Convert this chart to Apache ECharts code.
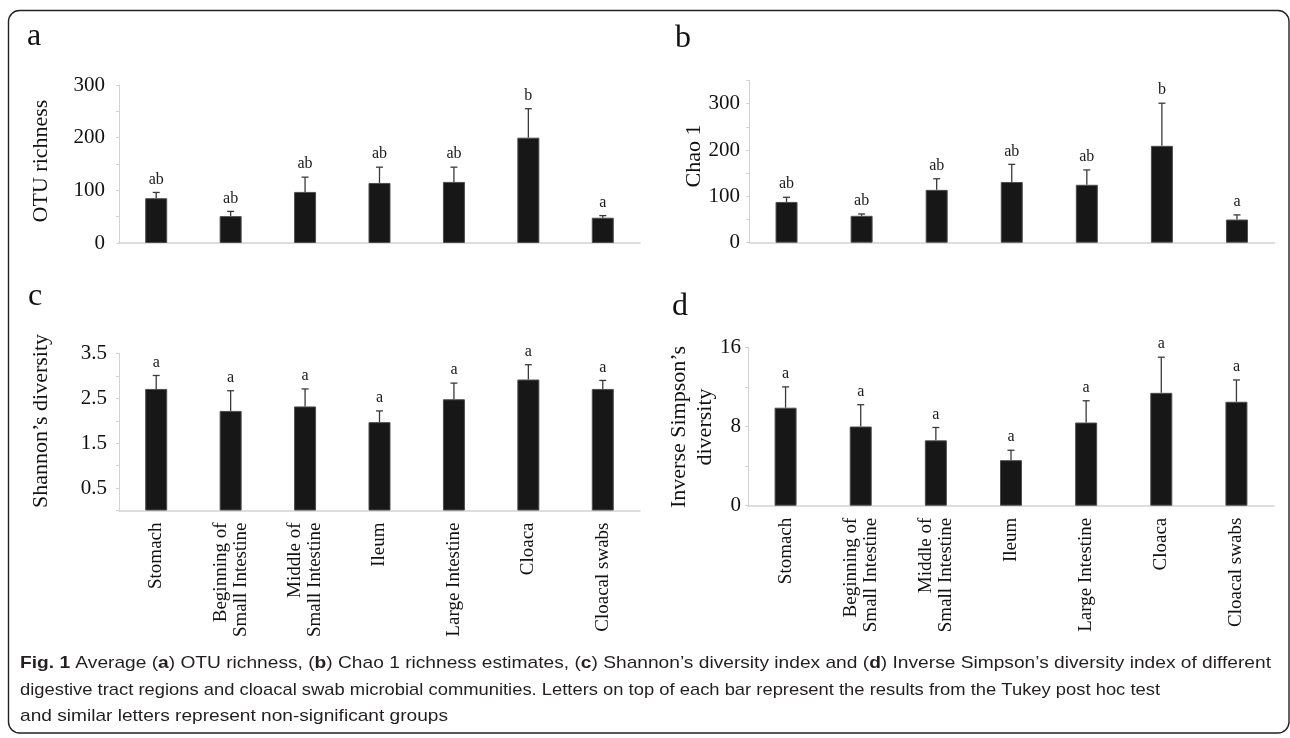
<!DOCTYPE html>
<html>
<head>
<meta charset="utf-8">
<script src="https://cdn.jsdelivr.net/npm/echarts@6/dist/echarts.min.js"></script>
<style>
  html, body { margin: 0; padding: 0; background: #ffffff; }
  #chart { width: 1290px; height: 738px; }
</style>
</head>
<body>
<div id="chart"></div>
<script>
// Sample groups along the digestive tract
const categories = [
  'Stomach',
  'Beginning of\nSmall Intestine',
  'Middle of\nSmall Intestine',
  'Ileum',
  'Large Intestine',
  'Cloaca',
  'Cloacal swabs'
];

// (a) OTU richness: mean and standard error
const otuMean = [85, 51, 97, 114, 116, 200, 48];
const otuErr = [11, 9, 28, 30, 28, 55, 4];
const otuLetters = ['ab', 'ab', 'ab', 'ab', 'ab', 'b', 'a'];

// (b) Chao 1 richness estimate
const chaoMean = [88, 58, 114, 131, 125, 209, 50];
const chaoErr = [10, 4, 24, 38, 32, 92, 10];
const chaoLetters = ['ab', 'ab', 'ab', 'ab', 'ab', 'b', 'a'];

// (c) Shannon's diversity index
const shannonMean = [2.71, 2.22, 2.32, 1.97, 2.48, 2.92, 2.71];
const shannonErr = [0.30, 0.45, 0.39, 0.25, 0.36, 0.33, 0.19];
const shannonLetters = ['a', 'a', 'a', 'a', 'a', 'a', 'a'];

// (d) Inverse Simpson's diversity index
const simpsonMean = [9.9, 8.0, 6.6, 4.6, 8.4, 11.4, 10.5];
const simpsonErr = [2.1, 2.2, 1.3, 1.0, 2.2, 3.6, 2.2];
const simpsonLetters = ['a', 'a', 'a', 'a', 'a', 'a', 'a'];

// Axis ranges and which tick values carry a label
const otuTicks = { max: 300, interval: 50, labelled: [0, 100, 200, 300] };
const chaoTicks = { max: 350, interval: 50, labelled: [0, 100, 200, 300] };
const shannonTicks = { max: 3.5, interval: 0.5, labelled: [0.5, 1.5, 2.5, 3.5] };
const simpsonTicks = { max: 16, interval: 4, labelled: [0, 8, 16] };

const SERIF = '"Liberation Serif", "Times New Roman", serif';
const CAPTION_FONT = '"Liberation Sans", Arial, sans-serif';

const panels = [
  { mean: otuMean, err: otuErr, letters: otuLetters, ticks: otuTicks, fmt: v => String(v),
    grid: { left: 119, top: 85, width: 521, height: 158 }, labelMargin: 14, showCats: false },
  { mean: chaoMean, err: chaoErr, letters: chaoLetters, ticks: chaoTicks, fmt: v => String(v),
    grid: { left: 749, top: 80.5, width: 525.5, height: 162.2 }, labelMargin: 9, showCats: false },
  { mean: shannonMean, err: shannonErr, letters: shannonLetters, ticks: shannonTicks, fmt: v => v.toFixed(1),
    grid: { left: 119, top: 353.5, width: 521, height: 157 }, labelMargin: 12, showCats: true },
  { mean: simpsonMean, err: simpsonErr, letters: simpsonLetters, ticks: simpsonTicks, fmt: v => String(v),
    grid: { left: 748, top: 347.3, width: 526, height: 158.4 }, labelMargin: 7, showCats: true }
];

const AXIS_GREY = '#d2d2d2';

const grid = panels.map(p => Object.assign({ outerBoundsMode: 'none', containLabel: false }, p.grid));

const xAxis = panels.map((p, i) => ({
  type: 'category',
  gridIndex: i,
  data: categories,
  axisLine: { show: true, lineStyle: { color: AXIS_GREY, width: 1.5 } },
  axisTick: { show: false },
  splitLine: { show: false },
  axisLabel: {
    show: p.showCats,
    interval: 0,
    rotate: 90,
    margin: 12,
    color: '#111',
    fontFamily: SERIF,
    fontSize: 19,
    lineHeight: 20
  }
}));

const yAxis = panels.map((p, i) => ({
  type: 'value',
  gridIndex: i,
  min: 0,
  max: p.ticks.max,
  interval: p.ticks.interval,
  splitLine: { show: false },
  axisLine: { show: true, lineStyle: { color: AXIS_GREY, width: 1 } },
  axisTick: { show: true, inside: false, length: 3, lineStyle: { color: AXIS_GREY, width: 1 } },
  axisLabel: {
    margin: p.labelMargin,
    color: '#111',
    fontFamily: SERIF,
    fontSize: 21,
    formatter: v => p.ticks.labelled.some(t => Math.abs(t - v) < 1e-9) ? p.fmt(v) : ''
  }
}));

const series = [];
panels.forEach((p, i) => {
  series.push({
    type: 'bar',
    xAxisIndex: i,
    yAxisIndex: i,
    barWidth: 22,
    data: p.mean,
    itemStyle: { color: '#171717', borderColor: '#4d4d4d', borderWidth: 1 },
    silent: true,
    z: 2
  });
  // upper error bar with cap, and the Tukey letter above it
  series.push({
    type: 'custom',
    xAxisIndex: i,
    yAxisIndex: i,
    data: p.mean.map((m, k) => [k, m, m + p.err[k]]),
    encode: { x: 0, y: [1, 2] },
    silent: true,
    z: 3,
    renderItem: (params, api) => {
      const k = api.value(0);
      const lo = api.coord([k, api.value(1)]);
      const hi = api.coord([k, api.value(2)]);
      const cap = 3.5;
      const stroke = { stroke: '#3a3a3a', lineWidth: 1.3 };
      return {
        type: 'group',
        children: [
          { type: 'line', shape: { x1: lo[0], y1: lo[1], x2: hi[0], y2: hi[1] }, style: stroke },
          { type: 'line', shape: { x1: hi[0] - cap, y1: hi[1], x2: hi[0] + cap, y2: hi[1] }, style: stroke },
          { type: 'text', x: hi[0], y: hi[1] - 5,
            style: { text: p.letters[params.dataIndex], fill: '#1a1a1a',
                     font: '16px ' + SERIF, textAlign: 'center', textVerticalAlign: 'bottom' } }
        ]
      };
    }
  });
});

// caption: bold runs are marked {b|...}; each line has a target printed width
const captionLines = [
  '{b|Fig. 1} Average ({b|a}) OTU richness, ({b|b}) Chao 1 richness estimates, ({b|c}) Shannon\u2019s diversity index and ({b|d}) Inverse Simpson\u2019s diversity index of different',
  'digestive tract regions and cloacal swab microbial communities. Letters on top of each bar represent the results from the Tukey post hoc test',
  'and similar letters represent non-significant groups'
];
const captionWidths = [1251, 1140, 428];
const CAPTION_SIZE = 17;
const captionY = [663, 690, 716];

// natural width of a caption line including its bold runs
function captionWidth(line) {
  const ctx = document.createElement('canvas').getContext('2d');
  let w = 0;
  line.split(/(\{b\|[^}]*\})/).forEach(part => {
    const m = part.match(/^\{b\|([^}]*)\}$/);
    ctx.font = (m ? 'bold ' : '') + CAPTION_SIZE + 'px ' + CAPTION_FONT;
    w += ctx.measureText(m ? m[1] : part).width;
  });
  return w;
}

const textStyle = (text, size) => ({ text, fill: '#111', font: size + 'px ' + SERIF,
                                     textAlign: 'center', textVerticalAlign: 'middle' });
const letterStyle = text => Object.assign(textStyle(text, 32), { textAlign: 'left' });

const graphic = [
  // rounded frame around the figure
  { type: 'rect', shape: { x: 8.5, y: 10.5, width: 1280.5, height: 722.5, r: 11 },
    style: { fill: 'none', stroke: '#222', lineWidth: 1.4 }, z: 0 },
  // panel letters
  { type: 'text', x: 27, y: 37, style: letterStyle('a'), z: 5 },
  { type: 'text', x: 675, y: 39, style: letterStyle('b'), z: 5 },
  { type: 'text', x: 28, y: 297, style: letterStyle('c'), z: 5 },
  { type: 'text', x: 672, y: 307, style: letterStyle('d'), z: 5 },
  // y-axis titles
  { type: 'text', x: 41, y: 161, rotation: Math.PI / 2, style: textStyle('OTU richness', 22), z: 5 },
  { type: 'text', x: 694, y: 156, rotation: Math.PI / 2, style: textStyle('Chao 1', 22), z: 5 },
  { type: 'text', x: 41, y: 421, rotation: Math.PI / 2, style: textStyle('Shannon\u2019s diversity', 22), z: 5 },
  { type: 'text', x: 692, y: 427, rotation: Math.PI / 2,
    style: Object.assign(textStyle('Inverse Simpson\u2019s\ndiversity', 22), { lineHeight: 26 }), z: 5 }
];

captionLines.forEach((line, k) => {
  graphic.push({
    type: 'text', x: 20, y: captionY[k], scaleX: captionWidths[k] / captionWidth(line), z: 5,
    style: {
      text: line, fill: '#231f20', font: CAPTION_SIZE + 'px ' + CAPTION_FONT,
      textAlign: 'left', textVerticalAlign: 'middle',
      rich: { b: { fontWeight: 'bold', fontFamily: CAPTION_FONT, fontSize: CAPTION_SIZE, fill: '#231f20' } }
    }
  });
});

const chart = echarts.init(document.getElementById('chart'), null, { renderer: 'canvas' });
chart.setOption({
  animation: false,
  backgroundColor: '#ffffff',
  grid, xAxis, yAxis, series, graphic
});
</script>
</body>
</html>
